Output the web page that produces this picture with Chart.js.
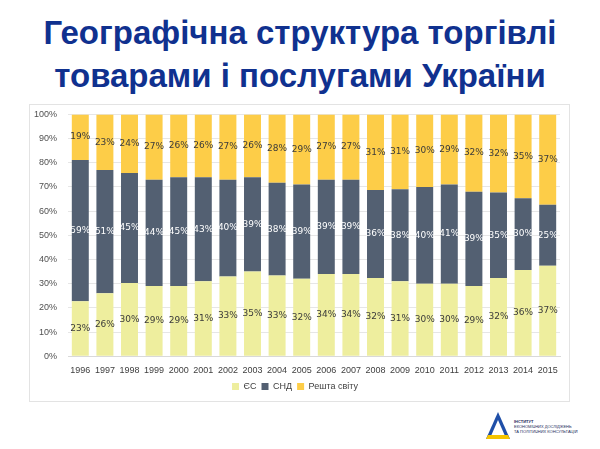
<!DOCTYPE html>
<html>
<head>
<meta charset="utf-8">
<script src="https://cdn.jsdelivr.net/npm/chart.js@4"></script>
<style>
  body { margin: 0; width: 600px; height: 449px; background: #fff; overflow: hidden; position: relative; font-family: "Liberation Sans", Arial, sans-serif; }
  .title { position: absolute; left: 0; width: 600px; text-align: center; color: #10318f; font-weight: bold; font-size: 33px; line-height: 43px; top: 11px; }
  .box { position: absolute; left: 29px; top: 104px; width: 541px; height: 298px; border: 1px solid #e3e3e3; box-sizing: border-box; }
  .box canvas { position: absolute; left: 0; top: -7px; }
  .logo { position: absolute; left: 486px; top: 411px; }
</style>
</head>
<body>
<div class="title">Географічна структура торгівлі<br>товарами і послугами України</div>
<div class="box"><canvas id="tradeChart" width="539" height="306"></canvas></div>
<svg class="logo" width="110" height="32" viewBox="0 0 110 32">
  <polygon points="12,1 0,28 24,28" fill="#1f4fa8"/>
  <polygon points="12,9 5,25 19,25" fill="#fff"/>
  <polygon points="2,24 22,24 24,28 0,28" fill="#f5c400"/>
  <text x="28" y="12" font-size="4" font-weight="bold" fill="#1b2a5a">ІНСТИТУТ</text>
  <text x="28" y="17" font-size="4" fill="#1b2a5a">ЕКОНОМІЧНИХ ДОСЛІДЖЕНЬ</text>
  <text x="28" y="22" font-size="4" fill="#1b2a5a">ТА ПОЛІТИЧНИХ КОНСУЛЬТАЦІЙ</text>
</svg>
<script>
// Дані (частка, %)
const years = ['1996', '1997', '1998', '1999', '2000', '2001', '2002', '2003', '2004', '2005',
               '2006', '2007', '2008', '2009', '2010', '2011', '2012', '2013', '2014', '2015'];
const euShare = [23, 26, 30, 29, 29, 31, 33, 35, 33, 32, 34, 34, 32, 31, 30, 30, 29, 32, 36, 37];
const cisShare = [59, 51, 45, 44, 45, 43, 40, 39, 38, 39, 39, 39, 36, 38, 40, 41, 39, 35, 30, 25];
const restShare = [19, 23, 24, 27, 26, 26, 27, 26, 28, 29, 27, 27, 31, 31, 30, 29, 32, 32, 35, 37];
const yTicks = [0, 10, 20, 30, 40, 50, 60, 70, 80, 90, 100];

// як у 100%-й гістограмі: кожен стовпчик нормується до 100
const totals = years.map((_, i) => euShare[i] + cisShare[i] + restShare[i]);
const norm = arr => arr.map((v, i) => v / totals[i] * 100);

// Підписи у центрі кожного сегмента
const segmentLabels = {
    id: 'segmentLabels',
    afterDatasetsDraw(chart) {
        const ctx = chart.ctx;
        ctx.save();
        ctx.font = '9px "DejaVu Sans", sans-serif';
        ctx.textAlign = 'center';
        ctx.textBaseline = 'middle';
        chart.data.datasets.forEach((ds, i) => {
            chart.getDatasetMeta(i).data.forEach((bar, j) => {
                ctx.fillStyle = ds.labelColor;
                ctx.fillText(ds.raw[j] + '%', bar.x, (bar.y + bar.base) / 2);
            });
        });
        ctx.restore();
    }
};

const ctx = document.getElementById('tradeChart').getContext('2d');
new Chart(ctx, {
    type: 'bar',
    data: {
        labels: years,
        datasets: [
            { label: 'ЄС', data: norm(euShare), raw: euShare, backgroundColor: '#eeee9e', labelColor: '#3a3a3a' },
            { label: 'СНД', data: norm(cisShare), raw: cisShare, backgroundColor: '#536072', labelColor: '#ffffff' },
            { label: 'Решта світу', data: norm(restShare), raw: restShare, backgroundColor: '#fdcd48', labelColor: '#3a3a3a' }
        ]
    },
    options: {
        responsive: false,
        animation: false,
        layout: { padding: { left: 0, right: 9, top: 0, bottom: 3 } },
        datasets: { bar: { categoryPercentage: 0.69, barPercentage: 1, borderWidth: 0 } },
        scales: {
            x: {
                stacked: true,
                grid: { display: false },
                border: { color: '#d9d9d9' },
                ticks: { color: '#404040', font: { size: 9, family: 'Liberation Sans' }, padding: 1, maxRotation: 0, autoSkip: false }
            },
            y: {
                stacked: true,
                min: 0,
                max: 100,
                afterFit: s => { s.width = 38; },
                afterBuildTicks: s => { s.ticks = yTicks.map(v => ({ value: v })); },
                grid: { color: '#e6e6e6', drawTicks: false },
                border: { display: false },
                ticks: { color: '#505050', font: { size: 9, family: 'Liberation Sans' }, padding: 11, callback: v => v + '%' }
            }
        },
        plugins: {
            legend: {
                position: 'bottom',
                labels: { boxWidth: 7, boxHeight: 7, padding: 5, color: '#404040', font: { size: 9, family: 'Liberation Sans' } }
            },
            tooltip: { enabled: false }
        }
    },
    plugins: [segmentLabels]
});
</script>
</body>
</html>
